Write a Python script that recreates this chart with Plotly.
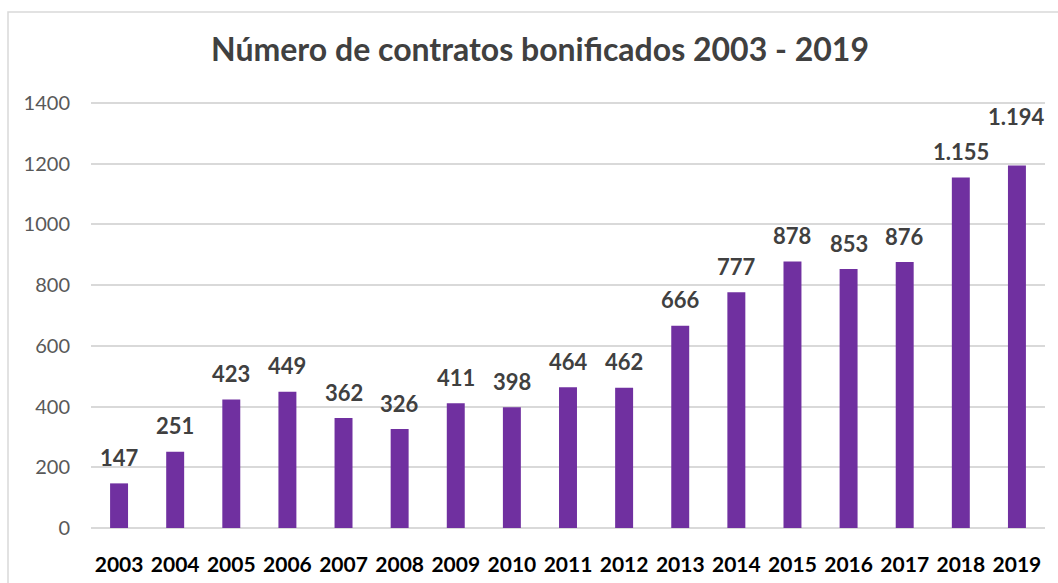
import plotly.graph_objects as go

years = [str(y) for y in range(2003, 2020)]
contratos = [147, 251, 423, 449, 362, 326, 411, 398, 464, 462, 666, 777, 878, 853, 876, 1155, 1194]
y_ticks = [0, 200, 400, 600, 800, 1000, 1200, 1400]

# etiquetas con separador de miles "."
etiquetas = [f"{v:,}".replace(",", ".") for v in contratos]

FONT = "Lato, 'Open Sans', sans-serif"
W, H = 1058, 583
ML, MR, MT, MB = 91, 13, 102, 55
pw, ph = W - ML - MR, H - MT - MB

fig = go.Figure()
fig.add_trace(
    go.Bar(
        x=years,
        y=contratos,
        marker=dict(color="#7030A0", line=dict(width=0)),
        hoverinfo="x+y",
    )
)

# etiquetas de datos (la de 2019 va un poco más arriba, como en el original)
for i, (v, txt) in enumerate(zip(contratos, etiquetas)):
    fig.add_annotation(
        x=i, y=v, text=f"<b>{txt}</b>", showarrow=False,
        yanchor="middle", yshift=49 if i == len(years) - 1 else 26,
        font=dict(family=FONT, size=22, color="#404040"),
    )

# borde del gráfico
fig.add_shape(
    type="rect", xref="paper", yref="paper",
    x0=(8 - ML) / pw, x1=(W + 20 - ML) / pw,
    y0=(MT + ph - H - 20) / ph, y1=(MT + ph - 12) / ph,
    line=dict(color="#d9d9d9", width=1.5), fillcolor="rgba(0,0,0,0)", layer="below",
)

fig.update_layout(
    width=W, height=H,
    margin=dict(l=ML, r=MR, t=MT, b=MB),
    paper_bgcolor="white", plot_bgcolor="white",
    showlegend=False,
    bargap=0.68,
    title=dict(
        text="<b>Número de contratos bonificados 2003 - 2019</b>",
        x=540 / W, xanchor="center", y=1 - 50 / H, yanchor="middle",
        font=dict(family=FONT, size=32, color="#404040"),
    ),
    font=dict(family=FONT),
)
fig.update_xaxes(
    type="category",
    range=[-0.5, len(years) - 0.5],
    tickfont=dict(size=21, color="#000000", weight="bold"),
    ticklabelstandoff=22,
    automargin=False,
    showline=False, ticks="",
)
fig.update_yaxes(
    range=[0, 1403.5], tickvals=y_ticks,
    tickfont=dict(size=20, color="#595959"),
    ticklabelstandoff=20,
    automargin=False,
    showgrid=True, gridcolor="#d9d9d9", gridwidth=1.5,
    zeroline=True, zerolinecolor="#d9d9d9", zerolinewidth=1.5,
    showline=False, ticks="",
)

fig.write_html(
    "out.html",
    config={"displayModeBar": False},
    post_script="document.body.style.margin = '0';",
)
